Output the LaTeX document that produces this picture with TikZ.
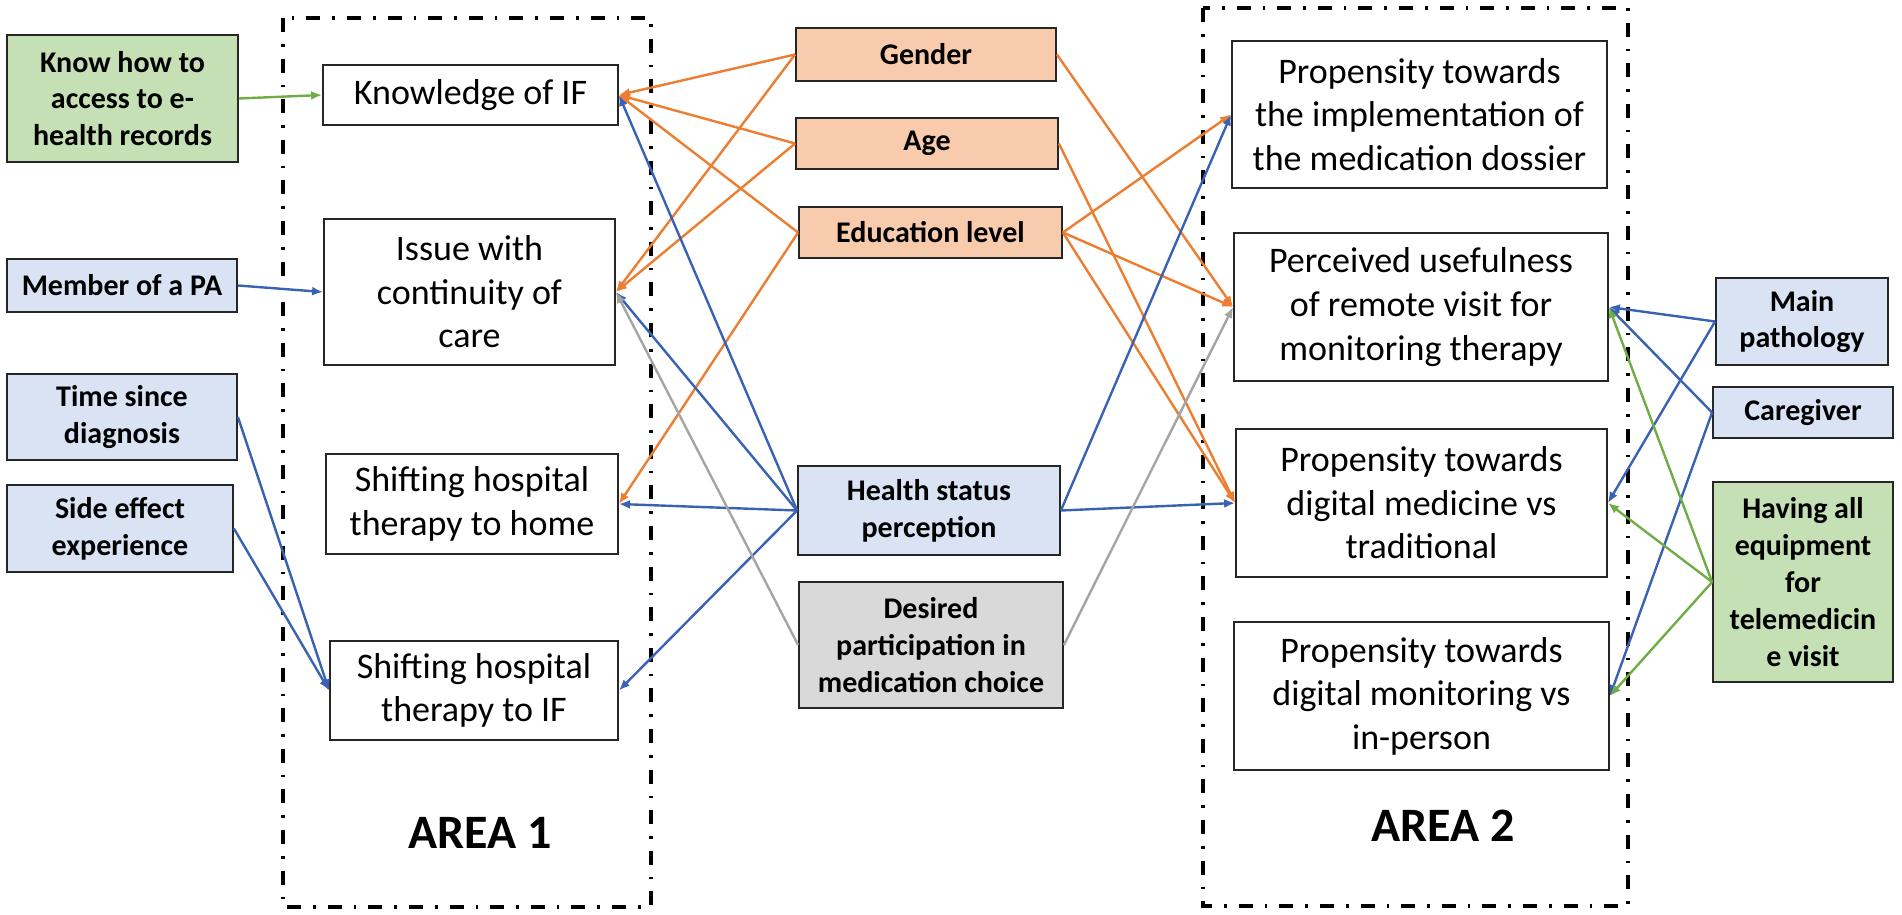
\documentclass[tikz,border=0pt]{standalone}
\usepackage{fontspec}
\setmainfont{Carlito}
\usetikzlibrary{arrows.meta}
\definecolor{cor}{HTML}{ED7D31}
\definecolor{cblue}{HTML}{3A62B2}
\definecolor{cgreen}{HTML}{70AD47}
\definecolor{cgrey}{HTML}{A5A5A5}
\definecolor{forange}{HTML}{F8CBAD}
\definecolor{fblue}{HTML}{DAE3F3}
\definecolor{fgreen}{HTML}{C5E0B4}
\definecolor{fgrey}{HTML}{D9D9D9}
\tikzset{
  box/.style={draw=black!85, line width=0.9pt, align=center, inner sep=2pt, fill=white,
    font=\fontsize{18}{21.8}\selectfont},
  sbox/.style={box, font=\bfseries\fontsize{15}{18.4}\selectfont},
  areabox/.style={draw=black, line width=1.8pt, dash pattern=on 7pt off 6pt on 1.3pt off 6pt},
  arealabel/.style={font=\bfseries\fontsize{24}{28}\selectfont},
  conn/.style={line width=1.2pt, -{Latex[length=5.5pt,width=4.5pt]}},
  lor/.style={conn, draw=cor, fill=cor},
  lbl/.style={conn, draw=cblue, fill=cblue},
  lgn/.style={conn, draw=cgreen, fill=cgreen},
  lgy/.style={conn, draw=cgrey, fill=cgrey},
}
\begin{document}
\begin{tikzpicture}[x=0.5pt,y=-0.5pt]
\useasboundingbox (0,0) rectangle (1902,915);
% area frames
\draw[areabox] (283,18) rectangle (651,907);
\draw[areabox] (1203,8) rectangle (1628,906);
\node[arealabel] (a1) at (480,833) {AREA 1};
\node[arealabel] (a2) at (1443,826) {AREA 2};
% left inputs
\node[sbox, fill=fgreen, minimum width=115.5pt, minimum height=63.5pt] (know) at (122.5,98.5) {Know how to\\access to e-\\health records};
\node[sbox, fill=fblue, minimum width=115pt, minimum height=26.5pt] (pa) at (122,285.5) {Member of a PA};
\node[sbox, fill=fblue, minimum width=115pt, minimum height=43pt] (time) at (122,417) {Time since\\diagnosis};
\node[sbox, fill=fblue, minimum width=113pt, minimum height=43.5pt] (side) at (120,528.5) {Side effect\\experience};
% area 1
\node[box, minimum width=147.5pt, minimum height=30pt] (knowledge) at (470.5,95) {Knowledge of IF};
\node[box, minimum width=145.5pt, minimum height=73pt] (issue) at (469.5,292) {Issue with\\continuity of\\care};
\node[box, minimum width=146pt, minimum height=50pt] (home) at (472,504) {Shifting hospital\\therapy to home};
\node[box, minimum width=144pt, minimum height=49.5pt] (shiftif) at (474,690.5) {Shifting hospital\\therapy to IF};
% middle
\node[sbox, fill=forange, minimum width=130pt, minimum height=26.5pt] (gender) at (926,54.5) {Gender};
\node[sbox, fill=forange, minimum width=131pt, minimum height=25.5pt] (age) at (927,143.5) {Age};
\node[sbox, fill=forange, minimum width=131.5pt, minimum height=25.5pt] (edu) at (930.5,232.5) {Education level};
\node[sbox, fill=fblue, minimum width=131pt, minimum height=44.5pt] (health) at (929,510.5) {Health status\\perception};
\node[sbox, fill=fgrey, minimum width=132pt, minimum height=63pt] (desired) at (931,645) {Desired\\participation in\\medication choice};
% area 2
\node[box, minimum width=187.5pt, minimum height=73.5pt] (impl) at (1419.5,114.5) {Propensity towards\\the implementation of\\the medication dossier};
\node[box, minimum width=187pt, minimum height=74pt] (perc) at (1421,307) {Perceived usefulness\\of remote visit for\\monitoring therapy};
\node[box, minimum width=185.5pt, minimum height=74pt] (digmed) at (1421.5,503) {Propensity towards\\digital medicine vs\\traditional};
\node[box, minimum width=187.5pt, minimum height=74pt] (digmon) at (1421.5,696) {Propensity towards\\digital monitoring vs\\in-person};
% right inputs
\node[sbox, fill=fblue, minimum width=86pt, minimum height=43.5pt] (mainpath) at (1802,321.5) {Main\\pathology};
\node[sbox, fill=fblue, minimum width=90pt, minimum height=25.5pt] (caregiver) at (1803,412.5) {Caregiver};
\node[sbox, fill=fgreen, minimum width=90pt, minimum height=100pt] (having) at (1803,582) {Having all\\equipment\\for\\telemedicin\\e visit};
% connectors: left inputs
\draw[lgn] (know.east) -- (knowledge.west);
\draw[lbl] (pa.east) -- (issue.west);
\draw[lbl] (time.east) -- (shiftif.west);
\draw[lbl] (side.east) -- (shiftif.west);
% middle to area 1
\draw[lor] (gender.west) -- (knowledge.east);
\draw[lor] (gender.west) -- (issue.east);
\draw[lor] (age.west) -- (knowledge.east);
\draw[lor] (age.west) -- (issue.east);
\draw[lor] (edu.west) -- (knowledge.east);
\draw[lor] (edu.west) -- (home.east);
\draw[lbl] (health.west) -- (knowledge.east);
\draw[lbl] (health.west) -- (issue.east);
\draw[lbl] (health.west) -- (home.east);
\draw[lbl] (health.west) -- (shiftif.east);
\draw[lgy] (desired.west) -- (issue.east);
% middle to area 2
\draw[lor] (gender.east) -- (perc.west);
\draw[lor] (age.east) -- (digmed.west);
\draw[lor] (edu.east) -- (impl.west);
\draw[lor] (edu.east) -- (perc.west);
\draw[lor] (edu.east) -- (digmed.west);
\draw[lbl] (health.east) -- (impl.west);
\draw[lbl] (health.east) -- (digmed.west);
\draw[lgy] (desired.east) -- (perc.west);
% right inputs to area 2
\draw[lbl] (mainpath.west) -- (perc.east);
\draw[lbl] (mainpath.west) -- (digmed.east);
\draw[lbl] (caregiver.west) -- (perc.east);
\draw[lbl] (caregiver.west) -- (digmon.east);
\draw[lgn] (having.west) -- (perc.east);
\draw[lgn] (having.west) -- (digmed.east);
\draw[lgn] (having.west) -- (digmon.east);
\end{tikzpicture}
\end{document}
